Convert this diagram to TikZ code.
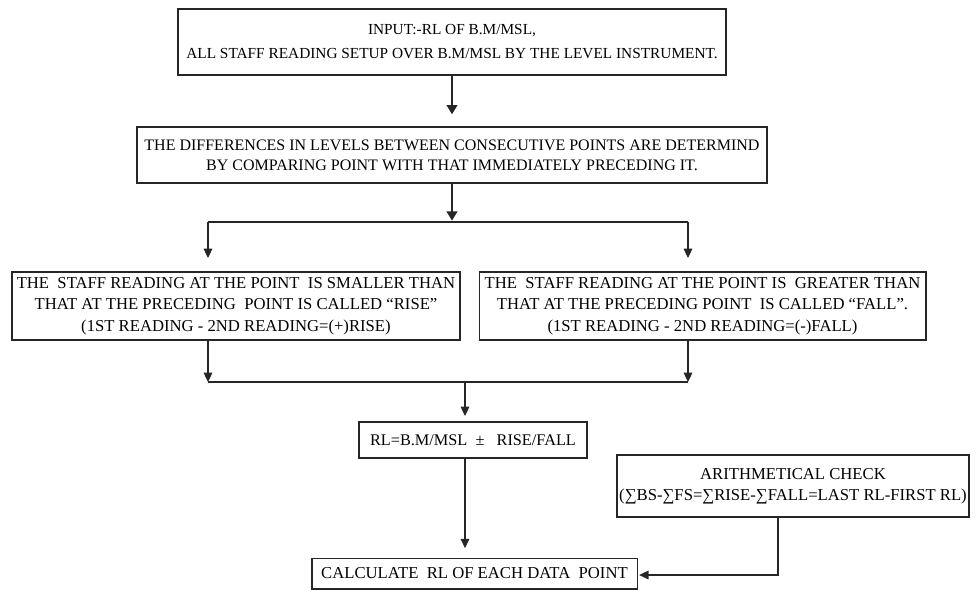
\documentclass[tikz,border=0pt]{standalone}
\usepackage{fontspec}
\setmainfont{Liberation Serif}
\usetikzlibrary{arrows.meta}

\tikzset{
  box/.style={draw=black!85,line width=1pt,align=center,inner sep=0pt,
              font=\fontsize{12.5}{16}\selectfont},
  link/.style={draw=black!85,line width=0.8pt},
  arrow/.style={link,-{Triangle[length=7pt,width=6.5pt]}},
  bigarrow/.style={link,line width=1.5pt,-{Triangle[length=7pt,width=8pt]}}
}

\begin{document}
\begin{tikzpicture}[x=0.75pt,y=-0.75pt]
  \useasboundingbox (0,0) rectangle (977,590);

  %% boxes, centres in pixels of the sheet
  \node (INPUT) at (452,42) [box,minimum width=411pt,minimum height=49.5pt,
      font=\fontsize{11.5}{16}\selectfont]
    {INPUT:-RL OF B.M/MSL,\\[2pt]ALL STAFF READING SETUP OVER B.M/MSL BY THE LEVEL INSTRUMENT.};
  \node (DIFF) at (452,155) [box,minimum width=472.5pt,minimum height=42pt,
      font=\fontsize{12}{15}\selectfont]
    {THE DIFFERENCES IN LEVELS BETWEEN CONSECUTIVE POINTS ARE DETERMIND\\
     BY COMPARING POINT WITH THAT IMMEDIATELY PRECEDING IT.};
  \node (RISE) at (236,306) [box,minimum width=336pt,minimum height=51pt]
    {THE~ STAFF READING AT THE POINT~ IS SMALLER THAN\\
     THAT AT THE PRECEDING~ POINT IS CALLED “RISE”\\
     (1ST READING - 2ND READING=(+)RISE)};
  \node (FALL) at (702.5,306) [box,minimum width=335pt,minimum height=51pt]
    {THE~ STAFF READING AT THE POINT IS~ GREATER THAN\\
     THAT AT THE PRECEDING POINT~ IS CALLED “FALL”.\\
     (1ST READING - 2ND READING=(-)FALL)};
  \node (RLEQ) at (473,440) [box,minimum width=171pt,minimum height=27pt,
      font=\fontsize{12.2}{15}\selectfont]
    {RL=B.M/MSL~ ±~~ RISE/FALL};
  \node (CHECK) at (793,486) [box,minimum width=264pt,minimum height=46.5pt]
    {ARITHMETICAL CHECK\\(∑BS-∑FS=∑RISE-∑FALL=LAST RL-FIRST RL)};
  \node (CALC) at (474.5,573.5) [box,minimum width=244pt,minimum height=23pt]
    {CALCULATE~ RL OF EACH DATA~ POINT};

  %% junction points
  \coordinate (SPLIT) at (452,222);
  \coordinate (SPL) at (208,222);
  \coordinate (SPR) at (688,222);
  \coordinate (MGL) at (208,382);
  \coordinate (MGR) at (688,382);
  \coordinate (MGM) at (465,382);
  \coordinate (CHK) at (778,575);

  %% connectors
  \draw[bigarrow,shorten >=9pt] (INPUT.south) -- (DIFF.north);
  \draw[bigarrow,shorten >=1pt] (DIFF.south) -- (SPLIT);
  \draw[link] (SPL) -- (SPR);
  \draw[arrow,shorten >=10pt] (SPL) -- (SPL |- RISE.north);
  \draw[arrow,shorten >=10pt] (SPR) -- (SPR |- FALL.north);

  \draw[arrow] (MGL |- RISE.south) -- (MGL);
  \draw[arrow] (MGR |- FALL.south) -- (MGR);
  \draw[link] (MGL) -- (MGR);
  \draw[arrow,shorten >=4pt] (MGM) -- (MGM |- RLEQ.north);
  \draw[arrow,shorten >=7pt] (MGM |- RLEQ.south) -- (MGM |- CALC.north);

  \draw[arrow,shorten >=1pt] (CHK |- CHECK.south) -- (CHK) -- (CHK -| CALC.east);

\end{tikzpicture}
\end{document}
